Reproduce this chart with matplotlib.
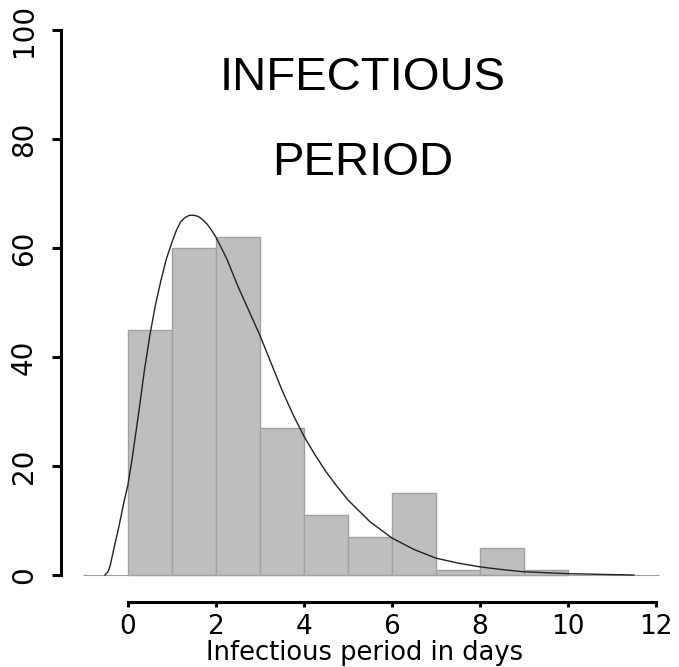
import numpy as np
import matplotlib.pyplot as plt

plt.rcParams['font.family'] = ['Liberation Sans', 'DejaVu Sans']

# histogram of infectious periods (counts per 1-day bin)
bin_edges = [0, 1, 2, 3, 4, 5, 6, 7, 8, 9, 10]
counts = [45, 60, 62, 27, 11, 7, 15, 1, 5, 1]

# fitted density curve
curve_x = [-0.52, -0.45, -0.4, -0.3, -0.2, -0.1, 0.0, 0.1, 0.25, 0.375, 0.5,
           0.625, 0.75, 0.875, 1.0, 1.1, 1.2, 1.3, 1.4, 1.5, 1.6, 1.7, 1.8,
           1.9, 2.0, 2.25, 2.5, 2.75, 3.0, 3.25, 3.5, 3.75, 4.0, 4.25, 4.5,
           4.75, 5.0, 5.5, 6.0, 6.5, 7.0, 7.5, 8.0, 8.5, 9.0, 10.0, 11.0, 11.5]
curve_y = [0, 0.6, 1.8, 5.5, 9, 13, 16.5, 21.5, 30, 37.5, 44,
           49.5, 54, 58, 61, 63.2, 64.8, 65.6, 66, 66, 65.8, 65.2, 64.4,
           63.3, 62, 58, 53, 48.5, 44, 39, 34, 29.5, 25.5, 22.1, 19,
           16.3, 13.8, 9.8, 6.8, 4.7, 3.1, 2.2, 1.5, 1.0, 0.6, 0.25, 0.08, 0]

x_ticks = [0, 2, 4, 6, 8, 10, 12]
y_ticks = [0, 20, 40, 60, 80, 100]
title_lines = ["INFECTIOUS", "PERIOD"]

W, H = 679, 667
fig = plt.figure(figsize=(W / 100, H / 100), dpi=100)
ax = fig.add_axes([61 / W, 1 - 602 / H, (669 - 61) / W, (602 - 27.3) / H])

ax.bar(bin_edges[:-1], counts, width=1, align='edge',
       color='#bebebe', edgecolor='#a0a0a0', linewidth=1)
ax.hlines(0, -1.02, 12.07, color='#a0a0a0', lw=0.8)
ax.plot(curve_x, curve_y, color='#222222', lw=1.0)

ax.set_xlim(-1.52, 12.3)
ax.set_ylim(-4.95, 100.5)

for side in ['top', 'right']:
    ax.spines[side].set_visible(False)
ax.spines['left'].set_bounds(0, 100)
ax.spines['bottom'].set_bounds(0, 12)
ax.spines['left'].set_linewidth(2.2)
ax.spines['bottom'].set_linewidth(2.2)

ax.set_xticks(x_ticks)
ax.set_yticks(y_ticks)
ax.tick_params(axis='y', length=6.5, width=2.2, pad=10, labelrotation=90)
ax.tick_params(axis='x', length=3.5, width=2.2, pad=5.5)
for lab in ax.get_yticklabels():
    lab.set_family('DejaVu Sans')
    lab.set_fontsize(20)
    lab.set_va('center')
for lab in ax.get_xticklabels():
    lab.set_family('DejaVu Sans')
    lab.set_fontsize(19)

ax.set_xlabel("Infectious period in days", fontsize=18.5,
              family='DejaVu Sans', labelpad=0)

ax.text(5.34, 89, title_lines[0], fontsize=34, ha='center', va='baseline')
ax.text(5.34, 73.4, title_lines[1], fontsize=34, ha='center', va='baseline')

fig.savefig("out.png", dpi=100)
